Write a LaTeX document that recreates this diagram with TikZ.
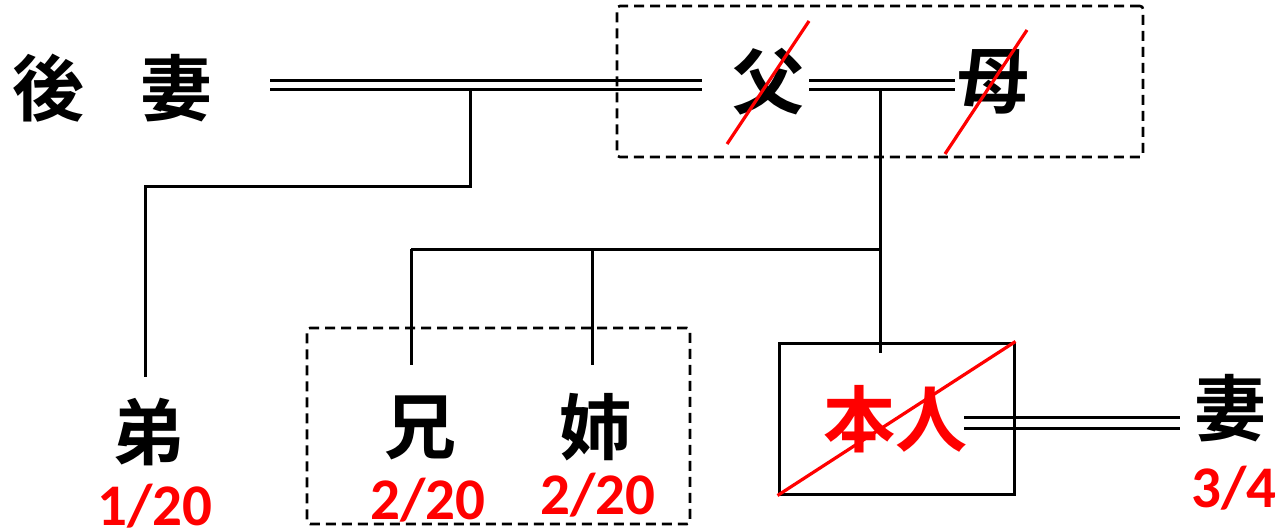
\documentclass[tikz,border=0pt]{standalone}
\usepackage{fontspec}
\newfontfamily\cjk{Noto Sans CJK JP}[BoldFont={* Bold}]
\newfontfamily\numf{Carlito}
\begin{document}
\begin{tikzpicture}[x=1pt,y=-1pt,
  kanji/.style={font=\cjk\bfseries\fontsize{72}{80}\selectfont, inner sep=0pt},
  frac/.style={font=\numf\bfseries\fontsize{59}{64}\selectfont, text=red, inner sep=0pt},
  tie/.style={draw=black, line width=3pt, double=white, double distance=6pt},
  wtie/.style={draw=black, line width=3pt, double=white, double distance=8pt},
  kin/.style={draw=black, line width=3pt},
  strike/.style={draw=red, line width=3.2pt},
  grp/.style={draw=black, line width=2.6pt, dash pattern=on 10pt off 6pt, rounded corners=3pt}]
\useasboundingbox (0,0) rectangle (1286,532);
% nodes
\node[kanji] (houtsuma) at (112.5,88) {後\hspace{56pt}妻};
\node[kanji] (fu) at (768,82) {父};
\node[kanji] (bo) at (993,82) {母};
\node[kanji] (otouto) at (148,432) {弟};
\node[kanji] (ani) at (420,428) {兄};
\node[kanji] (ane) at (595,427) {姉};
\node[kanji, text=red] (honnin) at (895,419) {本人};
\node[kanji] (tsuma) at (1230,408) {妻};
\node[frac] (f1) at (155,506) {1/20};
\node[frac] (f2) at (428,500) {2/20};
\node[frac] (f3) at (598,495) {2/20};
\node[frac] (f4) at (1234,488) {3/4};
% coordinates
\coordinate (t1a) at (270,85.5);
\coordinate (t1b) at (702,85.5);
\coordinate (t2a) at (809,85.5);
\coordinate (t2b) at (955,85.5);
\coordinate (t3a) at (964,422.5);
\coordinate (t3b) at (1180,422.5);
\coordinate (j1) at (470,90);
\coordinate (j1b) at (470,187);
\coordinate (j1c) at (145,187);
\coordinate (otoutoTop) at (145,377);
\coordinate (j2) at (880,90);
\coordinate (j2m) at (880,249);
\coordinate (honninTop) at (880,353);
\coordinate (s1) at (411,249);
\coordinate (s2) at (592,249);
\coordinate (aniTop) at (411,365);
\coordinate (aneTop) at (592,365);
% marriage lines
\draw[tie] (t1a) -- (t1b);
\draw[tie] (t2a) -- (t2b);
\draw[wtie] (t3a) -- (t3b);
% descent lines
\draw[kin] (j1) -- (j1b) -- (j1c) -- (otoutoTop);
\draw[kin] (j2) -- (honninTop);
\draw[kin] (s1) -- (j2m);
\draw[kin] (s1) -- (aniTop);
\draw[kin] (s2) -- (aneTop);
% boxes
\node[grp, minimum width=526pt, minimum height=151pt, inner sep=0pt] (parents) at (880,81.5) {};
\node[grp, minimum width=383pt, minimum height=196pt, inner sep=0pt] (sibs) at (498.5,426) {};
\node[draw=black, line width=3pt, minimum width=235pt, minimum height=151pt, inner sep=0pt] (selfbox) at (896.5,418.5) {};
% strikes
\draw[strike] (727,144) -- (809,21);
\draw[strike] (945,154) -- (1027,30);
\draw[strike] (selfbox.south west) -- (selfbox.north east);
\end{tikzpicture}
\end{document}
